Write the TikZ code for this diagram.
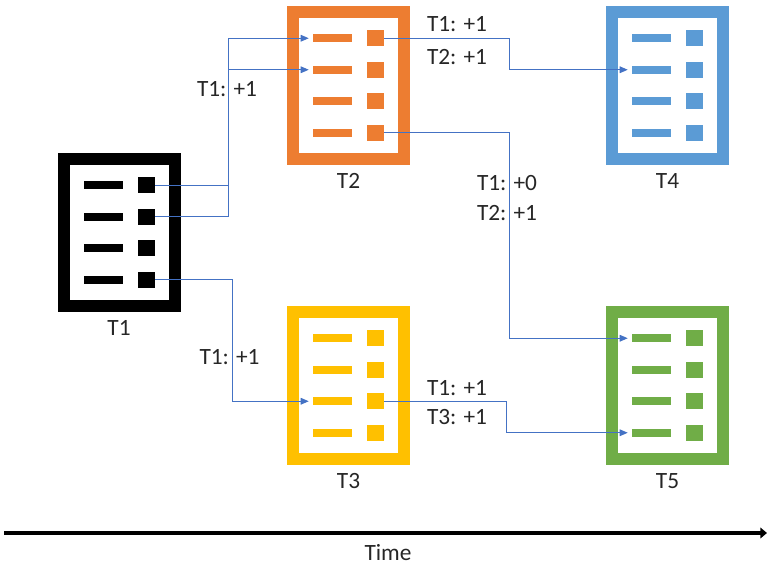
\documentclass[tikz,border=0pt]{standalone}
\usepackage{fontspec}
\setmainfont{Carlito}
\usetikzlibrary{positioning,arrows.meta,calc}
\definecolor{docorange}{RGB}{237,125,49}
\definecolor{docyellow}{RGB}{255,192,0}
\definecolor{docblue}{RGB}{91,155,213}
\definecolor{docgreen}{RGB}{112,173,71}
\definecolor{linkblue}{RGB}{68,114,196}
\tikzset{
docframe/.style={
  draw,
  rectangle,
  line width=9pt,
  minimum width=83.25pt,
  minimum height=110.25pt,
  inner sep=0pt,
  outer sep=0pt
  },
docbar/.style={rectangle, minimum width=29.25pt, minimum height=6pt, inner sep=0pt},
docsq/.style={rectangle, minimum width=12.75pt, minimum height=12pt, inner sep=0pt},
txtlabel/.style={font=\fontsize{17.5}{21}\selectfont, inner sep=0pt, text=black!85},
flow/.style={draw=linkblue, line width=0.75pt, -{Triangle[length=6pt,width=5pt]}, shorten >=3pt},
timeaxis/.style={draw=black, line width=3pt, -{Triangle[length=5pt,width=8pt]}}
}
% name, colour, centre x, centre y
\newcommand{\docicon}[4]{%
  \node[docframe, draw=#2] (#1) at (#3,#4) {};
  \foreach \r/\dy in {1/-47.25,2/-15.75,3/15.75,4/47.25}{
    \node[docbar, fill=#2] (#1b\r) at ($(#1)+(-16,\dy)$) {};
    \node[docsq, fill=#2] (#1s\r) at ($(#1)+(27,\dy)$) {};
  }
  \node[txtlabel, below=10.5pt of #1] (#1lbl) {#1};
}

\begin{document}
\begin{tikzpicture}[x=0.75pt,y=0.75pt,yscale=-1,xscale=1]
\useasboundingbox (0,0) rectangle (767,567);

\docicon{T1}{black}{119}{232.5}
\docicon{T2}{docorange}{348.5}{85.5}
\docicon{T3}{docyellow}{348.5}{385.5}
\docicon{T4}{docblue}{667.5}{85.5}
\docicon{T5}{docgreen}{667.5}{385.5}

\draw[flow] (T1s1) -- ++(82,0) |- (T2b1);
\draw[flow] (T1s2) -- ++(82,0) |- (T2b2);
\draw[flow] (T1s4) -- ++(86,0) |- (T3b3);
\draw[flow] (T2s1) -- ++(133.5,0) |- (T4b2);
\draw[flow] (T2s4) -- ++(133.5,0) |- (T5b1);
\draw[flow] (T3s3) -- ++(130.5,0) |- (T5b4);

\node[txtlabel] (w12) at (227,89) {T1: +1};
\node[txtlabel] (w13) at (229.5,357) {T1: +1};
\node[txtlabel] (w24a) at (457,24) {T1: +1};
\node[txtlabel] (w24b) at (457,57) {T2: +1};
\node[txtlabel] (w25a) at (507,183) {T1: +0};
\node[txtlabel] (w25b) at (507,213) {T2: +1};
\node[txtlabel] (w35a) at (457,388) {T1: +1};
\node[txtlabel] (w35b) at (457,417) {T3: +1};

\coordinate (tstart) at (4,533);
\coordinate (tend) at (767,533);
\draw[timeaxis] (tstart) -- (tend);
\node[txtlabel] (time) at (388,553) {Time};

\end{tikzpicture}
\end{document}
